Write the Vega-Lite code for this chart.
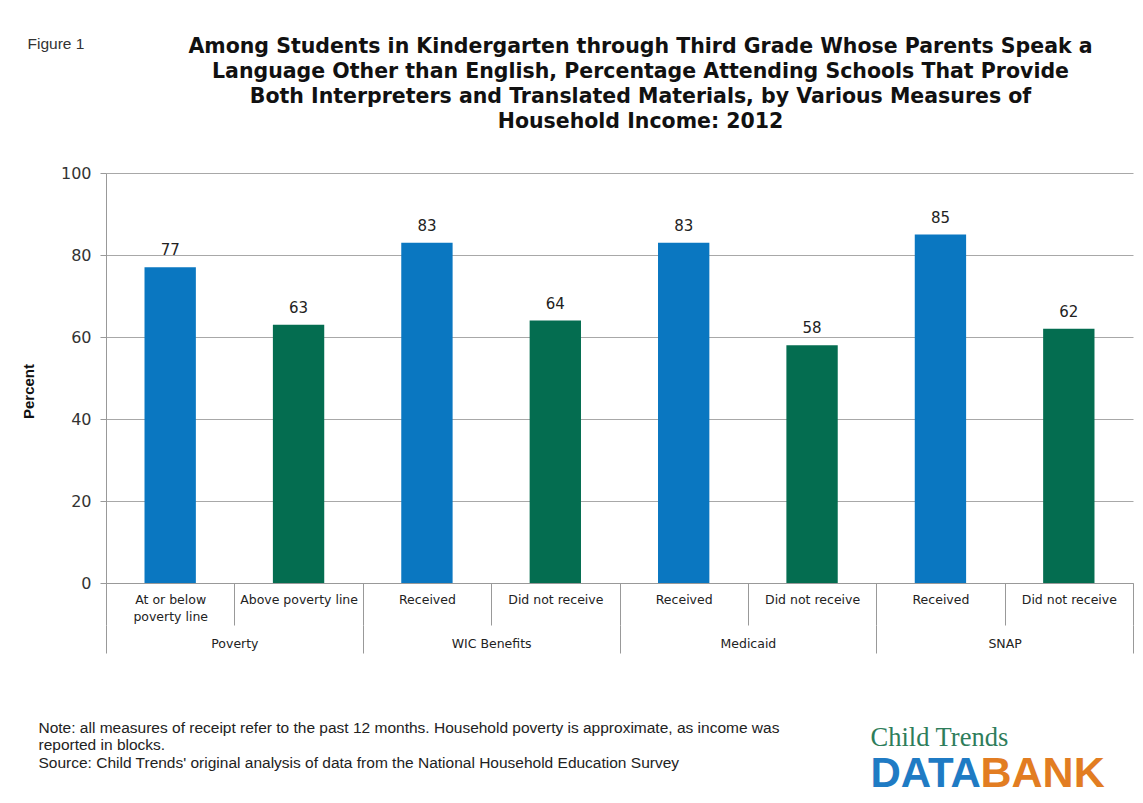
{
  "$schema": "https://vega.github.io/schema/vega-lite/v6.json",
  "width": 1027,
  "height": 410,
  "autosize": {"type": "none"},
  "padding": {"left": 106, "top": 173, "right": 10, "bottom": 220},
  "background": "white",
  "config": {
    "view": {"stroke": null},
    "axis": {"labelColor": "#222", "domainColor": "#999", "tickColor": "#999", "titleColor": "#222"}
  },
  "title": {
    "text": [
      "Among Students in Kindergarten through Third Grade Whose Parents Speak a",
      "Language Other than English, Percentage Attending Schools That Provide",
      "Both Interpreters and Translated Materials, by Various Measures of",
      "Household Income: 2012"
    ],
    "font": "DejaVu Sans",
    "fontWeight": "bold",
    "fontSize": 20.5,
    "lineHeight": 25.3,
    "color": "#111",
    "anchor": "middle",
    "frame": "group",
    "dx": 21,
    "offset": -97
  },
  "data": {
    "values": [
      {"group": "Poverty", "key": "1|At or below|poverty line", "kind": "blue", "value": 77},
      {"group": "Poverty", "key": "2|Above poverty line", "kind": "green", "value": 63},
      {"group": "WIC Benefits", "key": "3|Received", "kind": "blue", "value": 83},
      {"group": "WIC Benefits", "key": "4|Did not receive", "kind": "green", "value": 64},
      {"group": "Medicaid", "key": "5|Received", "kind": "blue", "value": 83},
      {"group": "Medicaid", "key": "6|Did not receive", "kind": "green", "value": 58},
      {"group": "SNAP", "key": "7|Received", "kind": "blue", "value": 85},
      {"group": "SNAP", "key": "8|Did not receive", "kind": "green", "value": 62}
    ]
  },
  "layer": [
    {
      "mark": {"type": "bar", "width": {"band": 0.4}},
      "encoding": {
        "x": {
          "field": "key", "type": "nominal", "sort": null,
          "scale": {"paddingInner": 0, "paddingOuter": 0},
          "axis": {
            "orient": "bottom",
            "tickBand": "extent", "tickSize": 42, "labelPadding": -32,
            "labelExpr": "slice(split(datum.value, '|'), 1)",
            "labelFont": "DejaVu Sans", "labelFontSize": 12.5, "labelLineHeight": 17,
            "labelAngle": 0, "labelOverlap": false,
            "title": "Child Trends",
            "titleX": 764, "titleY": 162, "titleAlign": "left", "titleBaseline": "alphabetic", "titleAngle": 0,
            "titleFont": "Liberation Serif", "titleFontSize": 26.5, "titleFontWeight": "normal", "titleColor": "#2e7d5b"
          }
        },
        "y": {
          "field": "value", "type": "quantitative",
          "scale": {"domain": [0, 100]},
          "axis": {
            "values": [0, 20, 40, 60, 80, 100],
            "grid": true, "gridColor": "#a8a8a8",
            "tickSize": 6, "labelPadding": 9,
            "labelFont": "DejaVu Sans", "labelFontSize": 16, "labelColor": "#333",
            "title": "Percent",
            "titleX": -78, "titleY": 218, "titleAngle": 270, "titleAlign": "center", "titleBaseline": "middle",
            "titleFont": "Liberation Sans", "titleFontSize": 15, "titleFontWeight": "bold", "titleColor": "#111"
          }
        },
        "color": {
          "field": "kind", "type": "nominal",
          "scale": {"domain": ["blue", "green"], "range": ["#0a77c1", "#046d50"]},
          "legend": null
        }
      }
    },
    {
      "mark": {"type": "text", "baseline": "alphabetic", "dy": -12, "font": "DejaVu Sans", "fontSize": 15, "color": "#222"},
      "encoding": {
        "x": {"field": "key", "type": "nominal", "sort": null, "scale": {"paddingInner": 0, "paddingOuter": 0}, "axis": null},
        "y": {"field": "value", "type": "quantitative", "axis": null},
        "text": {"field": "value", "type": "quantitative"}
      }
    },
    {
      "mark": {"type": "bar", "opacity": 0},
      "encoding": {
        "x": {
          "field": "group", "type": "nominal", "sort": null,
          "scale": {"paddingInner": 0, "paddingOuter": 0},
          "axis": {
            "orient": "bottom", "offset": 42, "domain": false,
            "tickBand": "extent", "tickSize": 28, "labelPadding": -16,
            "labelFont": "DejaVu Sans", "labelFontSize": 12.5, "labelAngle": 0,
            "title": [
              "Note: all measures of receipt refer to the past 12 months. Household poverty is approximate,  as income was",
              "reported in blocks.",
              "Source: Child Trends' original analysis of data from the National Household Education Survey"
            ],
            "titleX": -68, "titleY": 95, "titleAlign": "left", "titleBaseline": "top", "titleAngle": 0,
            "titleFont": "Liberation Sans", "titleFontSize": 15.5, "titleFontWeight": "normal", "titleLineHeight": 17.5, "titleColor": "#222"
          }
        },
        "y": {
          "field": "value", "type": "quantitative", "stack": null,
          "axis": {
            "orient": "left", "domain": false, "ticks": false, "labels": false, "grid": false,
            "title": "Figure 1",
            "titleX": -79, "titleY": -130, "titleAngle": 0, "titleAlign": "left", "titleBaseline": "middle",
            "titleFont": "Liberation Sans", "titleFontSize": 15.5, "titleFontWeight": "normal", "titleColor": "#333"
          }
        }
      }
    },
    {
      "mark": {"type": "bar", "opacity": 0},
      "encoding": {
        "x": {
          "field": "key", "type": "nominal", "sort": null,
          "scale": {"paddingInner": 0, "paddingOuter": 0},
          "axis": {
            "orient": "top", "domain": false, "ticks": false, "labels": false, "grid": false,
            "title": "DATA",
            "titleX": 764, "titleY": 613, "titleAngle": 0, "titleAlign": "left", "titleBaseline": "alphabetic",
            "titleFont": "Liberation Sans", "titleFontSize": 42, "titleFontWeight": "bold", "titleColor": "#1f7bc4"
          }
        },
        "y": {
          "field": "value", "type": "quantitative", "stack": null,
          "axis": {
            "orient": "right", "domain": false, "ticks": false, "labels": false, "grid": false,
            "title": "BANK",
            "titleX": -153, "titleY": 613, "titleAngle": 0, "titleAlign": "left", "titleBaseline": "alphabetic",
            "titleFont": "Liberation Sans", "titleFontSize": 43, "titleFontWeight": "bold", "titleColor": "#e27d22"
          }
        }
      }
    }
  ],
  "resolve": {
    "scale": {"x": "independent"},
    "axis": {"x": "independent", "y": "independent"}
  }
}
